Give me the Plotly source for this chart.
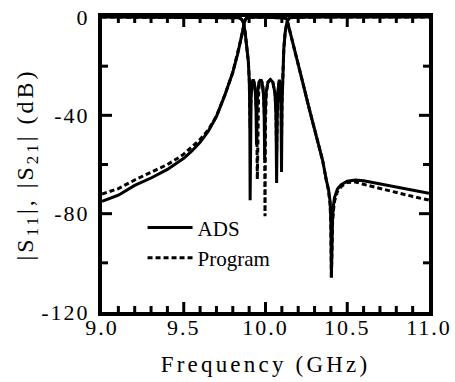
import plotly.graph_objects as go

# ---------------- data ----------------
ads_s21_f = [9.00, 9.10, 9.20, 9.30, 9.40, 9.50, 9.55, 9.60, 9.65, 9.70, 9.75, 9.80, 9.83, 9.85,
             9.865, 9.875, 9.885, 9.90, 10.00, 10.10, 10.12, 10.131, 10.14, 10.167, 10.20, 10.22,
             10.27, 10.30, 10.325, 10.35, 10.372, 10.385, 10.395, 10.400, 10.403, 10.406, 10.41,
             10.415, 10.422, 10.44, 10.463, 10.50, 10.55, 10.60, 10.70, 10.80, 10.90, 11.00]
ads_s21_db = [-75.0, -72.5, -68.5, -65.5, -62.0, -57.5, -54.5, -51.0, -46.5, -40.5, -32.0, -22.5, -15.0, -9.0,
              -4.0, -1.2, -0.4, -0.1, -0.1, -0.1, -0.4, -1.0, -3.5, -11.0, -19.5, -24.6,
              -38.0, -46.0, -52.5, -58.5, -66.3, -70.0, -75.0, -83.0, -106.0, -92.0, -82.0,
              -77.0, -73.5, -70.0, -68.2, -66.8, -66.3, -66.6, -67.8, -69.2, -70.4, -71.7]

prog_s21_f = [9.00, 9.10, 9.20, 9.30, 9.40, 9.46, 9.50, 9.60, 9.65, 9.70, 9.75, 9.80, 9.83, 9.85,
              9.865, 9.875, 9.885, 9.90, 10.00, 10.10, 10.12, 10.131, 10.14, 10.167, 10.20, 10.22,
              10.27, 10.30, 10.325, 10.35, 10.372, 10.385, 10.395, 10.400, 10.403, 10.406, 10.41,
              10.415, 10.422, 10.44, 10.463, 10.50, 10.55, 10.62, 10.70, 10.82, 10.92, 11.00]
prog_s21_db = [-72.0, -69.8, -66.3, -63.3, -60.0, -57.6, -55.8, -49.8, -46.0, -40.3, -32.0, -22.5, -15.0, -9.0,
               -4.0, -1.2, -0.4, -0.1, -0.1, -0.1, -0.4, -1.0, -3.5, -11.0, -19.5, -24.6,
               -38.0, -46.0, -52.5, -58.5, -66.5, -70.5, -76.0, -85.0, -106.0, -93.0, -84.0,
               -79.0, -75.0, -71.0, -69.0, -67.3, -67.1, -68.4, -69.6, -71.7, -73.3, -74.5]

ads_s11_f = [9.00, 9.80, 9.84, 9.855, 9.865, 9.875, 9.885, 9.895, 9.901, 9.904, 9.906, 9.908, 9.912,
             9.918, 9.925, 9.932, 9.938, 9.942, 9.945, 9.948, 9.952, 9.960, 9.970, 9.980, 9.988,
             9.992, 9.995, 9.998, 10.003, 10.015, 10.030, 10.045, 10.058, 10.064, 10.068, 10.072,
             10.078, 10.085, 10.091, 10.095, 10.098, 10.101, 10.105, 10.112, 10.120, 10.130,
             10.140, 10.160, 10.300, 11.00]
ads_s11_db = [0.0, -0.05, -0.3, -1.0, -2.5, -6.0, -11.0, -18.0, -26.0, -40.0, -74.5, -45.0, -32.0,
              -26.5, -25.5, -27.0, -31.0, -38.0, -52.0, -38.0, -31.0, -26.5, -25.5, -27.0, -32.0,
              -40.0, -58.0, -40.0, -31.0, -26.5, -25.5, -26.5, -31.0, -40.0, -67.5, -40.0,
              -29.0, -25.5, -28.0, -36.0, -63.0, -36.0, -22.0, -13.0, -6.5, -2.5,
              -0.8, -0.2, -0.05, 0.0]

prog_s11_f = [9.00, 9.80, 9.84, 9.855, 9.865, 9.875, 9.885, 9.895, 9.901, 9.904, 9.906, 9.908, 9.912,
              9.918, 9.925, 9.932, 9.940, 9.946, 9.950, 9.954, 9.958, 9.963, 9.972, 9.982, 9.989,
              9.994, 9.997, 10.000, 10.005, 10.015, 10.030, 10.045, 10.058, 10.064, 10.068, 10.072,
              10.078, 10.085, 10.091, 10.095, 10.098, 10.101, 10.105, 10.112, 10.120, 10.130,
              10.140, 10.160, 10.300, 11.00]
prog_s11_db = [0.0, -0.05, -0.3, -1.0, -2.5, -6.0, -11.0, -18.0, -26.0, -36.0, -45.0, -40.0, -31.0,
               -26.5, -25.5, -27.0, -31.0, -40.0, -66.0, -40.0, -31.0, -26.5, -25.5, -27.0, -32.0,
               -42.0, -81.0, -42.0, -31.0, -26.5, -25.5, -26.5, -31.0, -38.0, -55.0, -38.0,
               -29.0, -25.5, -28.0, -34.0, -50.0, -34.0, -22.0, -13.0, -6.5, -2.5,
               -0.8, -0.2, -0.05, 0.0]

series_names = ["ADS", "Program"]

x_tickvals = [9.0, 9.5, 10.0, 10.5, 11.0]
x_ticktext = ["9.0", "9.5", "10.0", "10.5", "11.0"]
y_tickvals = [0, -40, -80, -120]
y_ticktext = ["0", "-40", "-80", "-120"]

# tick-mark positions (major / minor), drawn on all four sides
x_major_marks = [9.5, 10.0, 10.5]
x_minor_marks = [9.1, 9.2, 9.3, 9.4, 9.6, 9.7, 9.8, 9.9, 10.1, 10.2, 10.3, 10.4,
                 10.6, 10.7, 10.8, 10.9]
y_major_marks = [-40, -80]
y_minor_marks = [-20, -60, -100]

# ---------------- figure ----------------
FONT = "Liberation Serif"
solid = dict(color="black", width=3)
dotted = dict(color="black", width=3, dash="5px,3px")

fig = go.Figure()
fig.add_trace(go.Scatter(x=prog_s21_f, y=prog_s21_db, mode="lines", line=dotted,
                         name=series_names[1], legendrank=2))
fig.add_trace(go.Scatter(x=prog_s11_f, y=prog_s11_db, mode="lines", line=dotted,
                         name=series_names[1], showlegend=False))
fig.add_trace(go.Scatter(x=ads_s21_f, y=ads_s21_db, mode="lines", line=solid,
                         name=series_names[0], legendrank=1))
fig.add_trace(go.Scatter(x=ads_s11_f, y=ads_s11_db, mode="lines", line=solid,
                         name=series_names[0], showlegend=False))

axis_common = dict(showline=True, linewidth=4, linecolor="black", mirror=True,
                   ticks="inside", ticklen=10, tickwidth=3, tickcolor="rgba(0,0,0,0)",
                   showgrid=False, zeroline=False, automargin=False)

fig.update_xaxes(range=[9.0, 11.0], tickmode="array", tickvals=x_tickvals, ticktext=x_ticktext,
                 tickfont=dict(family=FONT, size=22, color="black"), ticklabelstandoff=-7,
                 title=dict(text="Frequency (GHz)", font=dict(family=FONT, size=23, color="black"),
                            standoff=17),
                 **axis_common)
fig.update_yaxes(range=[-120, 0], tickmode="array", tickvals=y_tickvals, ticktext=y_ticktext,
                 tickfont=dict(family=FONT, size=22, color="black"), ticklabelstandoff=4,
                 title=dict(text="|S<sub>11</sub>|, |S<sub>21</sub>| (dB)",
                            font=dict(family=FONT, size=24, color="black"), standoff=10),
                 **axis_common)

# tick marks (inside, on every side) as pixel-sized line shapes
tick_line = dict(color="black", width=3)
for vals, length in ((x_major_marks, 10), (x_minor_marks, 6)):
    for v in vals:
        fig.add_shape(type="line", xref="x", yref="paper", x0=v, x1=v,
                      ysizemode="pixel", yanchor=0, y0=0, y1=length, line=tick_line)
        fig.add_shape(type="line", xref="x", yref="paper", x0=v, x1=v,
                      ysizemode="pixel", yanchor=1, y0=0, y1=-length, line=tick_line)
for vals, length in ((y_major_marks, 10), (y_minor_marks, 6)):
    for v in vals:
        fig.add_shape(type="line", xref="paper", yref="y", y0=v, y1=v,
                      xsizemode="pixel", xanchor=0, x0=0, x1=length, line=tick_line)
        fig.add_shape(type="line", xref="paper", yref="y", y0=v, y1=v,
                      xsizemode="pixel", xanchor=1, x0=0, x1=-length, line=tick_line)

fig.update_layout(
    width=455, height=382,
    margin=dict(l=102, r=26, t=17, b=70, autoexpand=False),
    plot_bgcolor="white", paper_bgcolor="white",
    showlegend=True,
    legend=dict(x=0.124, y=0.355, xanchor="left", yanchor="top",
                bgcolor="rgba(0,0,0,0)",
                font=dict(family=FONT, size=21, color="black"),
                tracegroupgap=0, traceorder="normal", itemwidth=45),
)

js = """
var gd = document.getElementById('{plot_id}');
var set = function(sel, px){
  gd.querySelectorAll(sel).forEach(function(t){ t.style.letterSpacing = px; });
};
set('.xtick text', '2px');
set('.ytick text', '2px');
set('.g-xtitle text', '3.2px');
set('.g-ytitle text', '3px');
"""

fig.write_html("out.html", post_script=js)
